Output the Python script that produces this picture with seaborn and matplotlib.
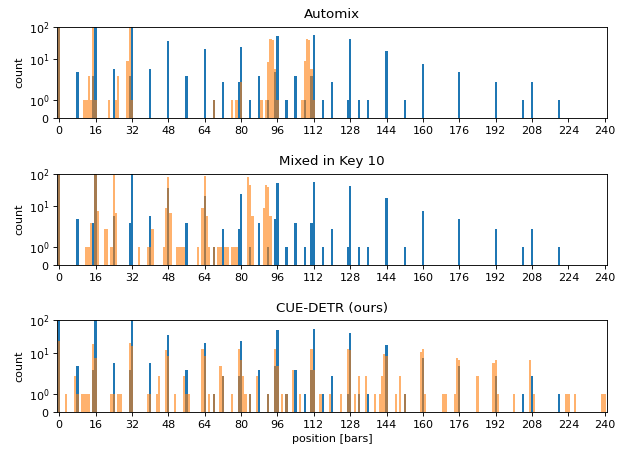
import matplotlib
matplotlib.use("Agg")
import matplotlib.pyplot as plt
import seaborn as sns

# ground truth cue positions (same in every panel)
gt_pos = [0, 8, 15, 16, 24, 31, 32, 40, 48, 56, 64, 68, 72, 79, 80, 84, 88, 92, 95, 96,
          100, 104, 108, 111, 112, 116, 120, 127, 128, 132, 136, 144, 152, 160, 176, 192,
          204, 208, 220]
gt_cnt = [100, 4, 3, 100, 5, 3, 100, 5, 35, 3, 20, 1, 2, 2, 23, 1, 3, 1, 4, 50,
          1, 3, 1, 3, 55, 1, 2, 1, 42, 1, 1, 18, 1, 7, 4, 2,
          1, 2, 1]

# Automix predictions
am_pos = [0, 11, 12, 13, 14, 15, 16, 22, 25, 26, 30, 31, 32, 68, 76, 78, 80, 89, 91, 92,
          93, 94, 95, 96, 107, 108, 109, 110, 111, 112]
am_cnt = [100, 1, 1, 3, 1, 100, 1, 1, 1, 3, 9, 95, 1, 1, 1, 1, 2, 1, 1, 8,
          41, 40, 5, 1, 1, 9, 41, 40, 5, 1]

# Mixed in Key 10 predictions
mik_pos = [0, 12, 13, 14, 16, 17, 20, 21, 23, 24, 25, 35, 39, 40, 41, 46, 47, 48, 49, 52,
           53, 54, 55, 61, 63, 64, 65, 66, 68, 70, 71, 73, 74, 76, 77, 78, 83, 84, 85, 90,
           91, 92, 93]
mik_cnt = [100, 1, 1, 3, 95, 7, 2, 2, 1, 91, 6, 1, 1, 1, 2, 1, 9, 80, 6, 1,
           1, 1, 1, 1, 9, 85, 5, 1, 1, 1, 1, 1, 1, 1, 1, 1, 80, 45, 5, 9,
           45, 38, 5]

# CUE-DETR predictions
cd_pos = [0, 3, 7, 8, 10, 11, 12, 13, 15, 16, 23, 24, 26, 27, 31, 32, 39, 40, 43, 44,
          47, 48, 51, 55, 56, 57, 63, 64, 66, 68, 71, 72, 76, 79, 80, 81, 82, 84, 87, 92,
          95, 96, 98, 100, 103, 106, 111, 112, 115, 119, 124, 127, 128, 130, 132, 135, 139,
          141, 142, 143, 144, 148, 150, 152, 159, 160, 161, 169, 170, 174, 175, 176, 184,
          191, 192, 193, 200, 207, 209, 223, 224, 227, 239, 240]
cd_cnt = [24, 1, 2, 1, 1, 1, 1, 1, 19, 7, 1, 1, 1, 1, 20, 16, 1, 1, 1, 2,
          12, 8, 1, 2, 1, 1, 13, 8, 1, 1, 4, 2, 1, 13, 6, 2, 1, 1, 2, 1,
          13, 4, 1, 1, 3, 1, 13, 3, 1, 1, 1, 13, 12, 1, 2, 2, 1,
          1, 2, 9, 8, 1, 2, 1, 11, 13, 1, 1, 1, 1, 7, 6, 2,
          5, 6, 1, 1, 6, 1, 1, 1, 1, 1, 1]

titles = ["Automix", "Mixed in Key 10", "CUE-DETR (ours)"]
preds = [(am_pos, am_cnt), (mik_pos, mik_cnt), (cd_pos, cd_cnt)]

fig, axes = plt.subplots(3, 1, figsize=(631 / 80, 451 / 80), dpi=80)
fig.subplots_adjust(left=0.091, right=0.962, top=0.941, bottom=0.087, hspace=0.61)

for ax, title, (p_pos, p_cnt) in zip(axes, titles, preds):
    sns.histplot(x=gt_pos, weights=gt_cnt, discrete=True, ax=ax,
                 color="tab:blue", alpha=1, edgecolor="none", linewidth=0)
    sns.histplot(x=p_pos, weights=p_cnt, discrete=True, ax=ax,
                 color="tab:orange", alpha=0.6, edgecolor="none", linewidth=0)
    ax.set_yscale("symlog", linthresh=2)
    ax.set_ylim(0, 100)
    ax.set_xlim(-0.8, 241)
    ax.set_xticks(range(0, 241, 16))
    ax.set_title(title, pad=8)
    ax.set_ylabel("count")
    ax.set_xlabel("")

axes[-1].set_xlabel("position [bars]")

plt.savefig("out.png", dpi=80)
